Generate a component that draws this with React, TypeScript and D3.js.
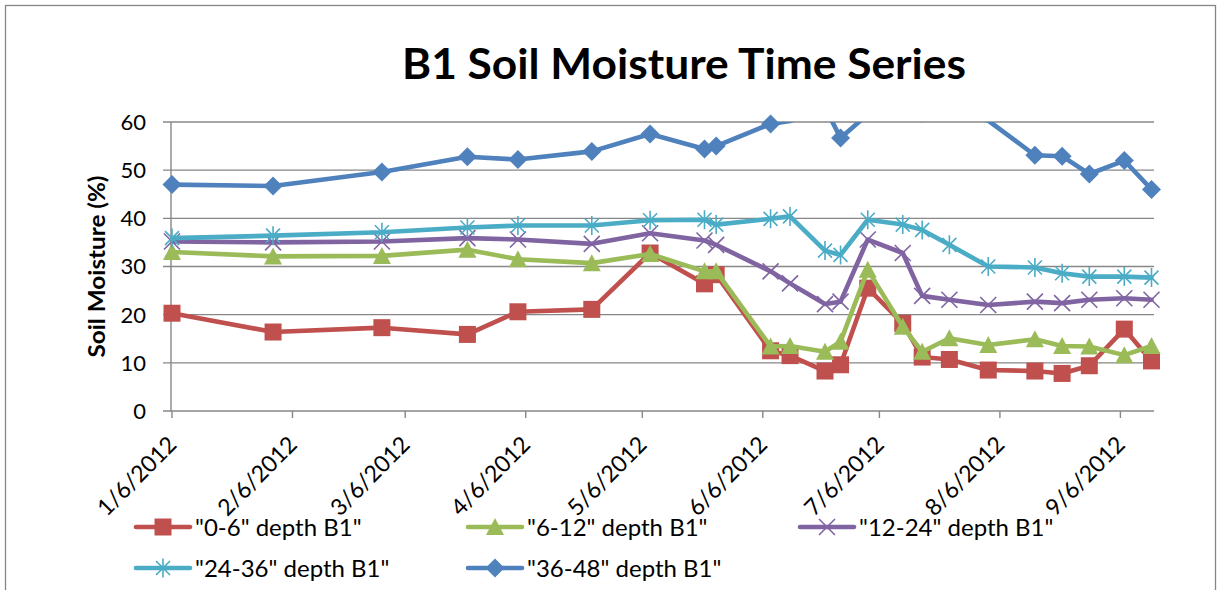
import * as d3 from 'd3';

// sample dates (x) and soil moisture readings (%) per depth
const sampleDates = [
  '2012-01-06', '2012-02-01', '2012-02-29', '2012-03-22', '2012-04-04', '2012-04-23',
  '2012-05-08', '2012-05-22', '2012-05-25', '2012-06-08', '2012-06-13', '2012-06-22',
  '2012-06-26', '2012-07-03', '2012-07-12', '2012-07-17', '2012-07-24', '2012-08-03',
  '2012-08-15', '2012-08-22', '2012-08-29', '2012-09-07', '2012-09-14',
];
const depth0to6 = [20.3, 16.4, 17.3, 15.9, 20.6, 21.1, 32.8, 26.4, 28.3, 12.5, 11.5, 8.3, 9.6, 25.5, 18.2, 11.2, 10.7, 8.5, 8.3, 7.8, 9.4, 17.0, 10.4];
const depth6to12 = [33.0, 32.1, 32.2, 33.5, 31.5, 30.7, 32.6, 29.0, 29.0, 13.4, 13.5, 12.3, 14.4, 29.3, 17.5, 12.3, 15.1, 13.7, 14.9, 13.5, 13.4, 11.6, 13.5];
const depth12to24 = [35.2, 35.0, 35.2, 35.9, 35.6, 34.7, 36.9, 35.4, 34.5, 29.0, 26.5, 22.2, 22.7, 35.6, 32.8, 23.9, 23.1, 22.0, 22.7, 22.4, 23.1, 23.4, 23.1];
const depth24to36 = [35.9, 36.4, 37.1, 38.1, 38.5, 38.5, 39.6, 39.7, 38.7, 39.9, 40.4, 33.3, 32.4, 39.7, 38.7, 37.6, 34.5, 30.0, 29.8, 28.6, 27.9, 27.9, 27.7];
const depth36to48 = [47.0, 46.7, 49.6, 52.8, 52.2, 53.9, 57.5, 54.4, 55.0, 59.6, 60.2, 63.0, 56.7, 61.6, 63.0, 60.4, 62.0, 60.3, 53.1, 52.9, 49.2, 52.0, 46.0];

const seriesNames = ['"0-6" depth B1"', '"6-12" depth B1"', '"12-24" depth B1"', '"24-36" depth B1"', '"36-48" depth B1"'];
const xTickLabels = ['1/6/2012', '2/6/2012', '3/6/2012', '4/6/2012', '5/6/2012', '6/6/2012', '7/6/2012', '8/6/2012', '9/6/2012'];
const yTicks = [0, 10, 20, 30, 40, 50, 60];

const W = 1221;
const H = 590;
const margin = { top: 122, right: 69, bottom: 179, left: 172 };

const parseDay = d3.timeParse('%Y-%m-%d');
const parseTick = d3.timeParse('%m/%d/%Y');
const dates = sampleDates.map(s => parseDay(s) as Date);

const series = [
  { name: seriesNames[0], values: depth0to6, color: '#C0504D', shape: 'square' },
  { name: seriesNames[1], values: depth6to12, color: '#9BBB59', shape: 'triangle' },
  { name: seriesNames[2], values: depth12to24, color: '#8064A2', shape: 'x' },
  { name: seriesNames[3], values: depth24to36, color: '#4BACC6', shape: 'star' },
  { name: seriesNames[4], values: depth36to48, color: '#4F81BD', shape: 'diamond' },
];

function Marker({ shape, color, x, y }: { shape: string; color: string; x: number; y: number }) {
  const t = `translate(${x},${y})`;
  if (shape === 'square') return <rect x={x - 8.5} y={y - 8.5} width={17} height={17} fill={color} />;
  if (shape === 'triangle') return <path transform={t} d="M0,-9L9,8L-9,8Z" fill={color} />;
  if (shape === 'diamond') return <path transform={t} d="M0,-9.5L9.5,0L0,9.5L-9.5,0Z" fill={color} />;
  if (shape === 'x')
    return <path transform={t} d="M-8,-8L8,8M8,-8L-8,8" stroke={color} strokeWidth={1.6} fill="none" />;
  return <path transform={t} d="M-7,-7L7,7M7,-7L-7,7M0,-9.5L0,9.5" stroke={color} strokeWidth={1.6} fill="none" />;
}

export default function App() {
  const x = d3.scaleTime()
    .domain([dates[0], dates[dates.length - 1]])
    .range([margin.left, W - margin.right - 0.5]);
  const y = d3.scaleLinear().domain([0, 60]).range([H - margin.bottom, margin.top]);
  const left = margin.left - 1;
  const right = W - margin.right + 2;
  const bottom = y(0);

  const line = d3.line<number>()
    .x((_, i) => x(dates[i]))
    .y(v => y(v));

  const legendCols = [136, 468, 800];
  const legendRows = [527, 568];

  return (
    <div style={{ position: 'absolute', left: 0, top: 0 }}>
      <svg width={W} height={H} style={{ display: 'block', background: '#fff' }}>
        <defs>
          <clipPath id="plot">
            <rect x={left} y={y(60)} width={right - left} height={bottom - y(60)} />
          </clipPath>
        </defs>
        <rect x={5.5} y={5.5} width={1210} height={620} fill="#fff" stroke="#868686" strokeWidth={1.3} />

        <text x={684} y={79} textAnchor="middle" fontFamily="Lato" fontWeight="bold" fontSize={42}
          textLength={564} lengthAdjust="spacingAndGlyphs">B1 Soil Moisture Time Series</text>

        {/* gridlines + y ticks */}
        {yTicks.map(t => (
          <g key={t}>
            <line x1={left - 8} x2={right} y1={y(t)} y2={y(t)} stroke="#878787" strokeWidth={1.4} />
            <text x={146} y={y(t)} dy="0.36em" textAnchor="end" fontFamily="Lato" fontSize={22} fill="#000">{t}</text>
          </g>
        ))}
        <line x1={left} x2={left} y1={y(60)} y2={bottom} stroke="#878787" strokeWidth={1.4} />

        <text transform={`translate(105,${(y(0) + y(60)) / 2}) rotate(-90)`} textAnchor="middle" fontFamily="Lato"
          fontWeight="bold" fontSize={22} textLength={182} lengthAdjust="spacingAndGlyphs">Soil Moisture (%)</text>

        {/* x ticks */}
        {xTickLabels.map(lbl => {
          const px = x(parseTick(lbl) as Date);
          return (
            <g key={lbl}>
              <line x1={px} x2={px} y1={bottom} y2={bottom + 7} stroke="#878787" strokeWidth={1.4} />
              <text transform={`translate(${px + 6},${bottom + 35}) rotate(-45)`} textAnchor="end" fontFamily="Lato"
                fontSize={23}>{lbl}</text>
            </g>
          );
        })}

        {/* series */}
        {series.map(s => (
          <g key={s.name}>
            <path d={line(s.values) || ''} fill="none" stroke={s.color} strokeWidth={4.6} strokeLinejoin="round"
              strokeLinecap="round" clipPath="url(#plot)" />
            {s.values.map((v, i) => v <= 60 ? <Marker key={i} shape={s.shape} color={s.color} x={x(dates[i])} y={y(v)} /> : null)}
          </g>
        ))}

        {/* legend */}
        {series.map((s, i) => {
          const lx = legendCols[i % 3];
          const ly = legendRows[Math.floor(i / 3)];
          return (
            <g key={'lg' + s.name}>
              <line x1={lx} x2={lx + 54} y1={ly} y2={ly} stroke={s.color} strokeWidth={4.6} strokeLinecap="round" />
              <Marker shape={s.shape} color={s.color} x={lx + 27} y={ly} />
              <text x={lx + 59} y={ly} dy="0.36em" fontFamily="Lato" fontSize={24}>{s.name}</text>
            </g>
          );
        })}
      </svg>
    </div>
  );
}
